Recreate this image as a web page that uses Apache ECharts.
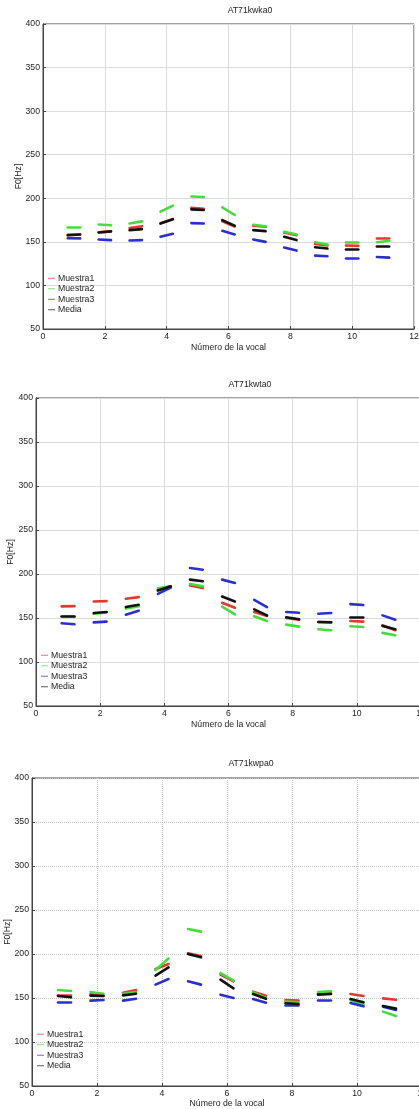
<!DOCTYPE html>
<html>
<head>
<meta charset="utf-8">
<script src="https://cdn.jsdelivr.net/npm/echarts@6/dist/echarts.min.js"></script>
<style>
html,body{margin:0;padding:0;background:#fff;}
#c{width:419px;height:1109px;}
</style>
</head>
<body>
<div id="c"></div>
<script>
// ---- data: each entry is [value at start of vowel, value at end of vowel] (Hz)
const vowels = [1,2,3,4,5,6,7,8,9,10,11];
const seriesNames = ['Muestra1','Muestra2','Muestra3','Media'];
const titles = ['AT71kwka0','AT71kwta0','AT71kwpa0'];
const xTicks = [0,2,4,6,8,10,12];
const yTicks = [50,100,150,200,250,300,350,400];

const ka_m1 = [[158,158.5],[161,162],[166,168],[171.5,176],[189,188],[173.5,167.7],[168.5,167.3],[160.8,157.7],[147.5,146],[145.8,145.4],[154.2,154.2]];
const ka_m2 = [[167.3,167],[170,169],[171,173.5],[184.6,191.5],[202,201.5],[189.6,180.8],[169.6,168],[161.5,158.5],[149.6,147],[149.2,149.2],[149.6,151.2]];
const ka_m3 = [[154.2,154],[152.7,152],[151.5,152],[155.8,159.2],[171.5,171],[162.7,158.5],[152.7,150],[143.5,140],[134.2,133.5],[131.2,131.2],[132.7,131.9]];
const ka_media = [[157.6,158.4],[160.8,162],[163.5,164.6],[171,176],[187.3,186.5],[175,168.5],[163.5,162.3],[155.8,152],[143.8,142.3],[141.5,141.2],[145,145.4]];

const ta_m1 = [[163.2,163.5],[168.8,169.2],[171.8,173.7],[182,186],[187.1,184.1],[167.3,161.7],[156.8,152.3],[150,148],[145.5,145],[146.6,145.9],[141.7,136.1]];
const ta_m2 = [[151.9,151.5],[154.9,156.4],[160.9,163.5],[183.8,186],[188.6,186],[162.8,154.1],[151.9,146.6],[142.5,140.2],[137.2,136.1],[140.6,139.8],[133.1,130.5]];
const ta_m3 = [[144,142.9],[145,145.9],[153.8,158.3],[177.4,184.6],[206.8,204.9],[193.6,189.8],[170.7,162.4],[156.8,156],[154.9,155.6],[165.8,164.7],[153,148.1]];
const ta_media = [[152.3,152.3],[155.6,156.8],[162.4,165],[181.2,186],[193.6,191.7],[174.4,168.8],[159.8,153],[150.8,148.5],[145.5,145.1],[150.8,150.8],[141,137.2]];

const pa_m1 = [[153.4,153.4],[154.2,153.4],[156,159],[183,188.6],[200.8,197.7],[176.5,169],[157.2,152.7],[147.7,147],[155,155.5],[154.5,152.3],[149.6,148.1]];
const pa_m2 = [[159.1,158],[156.8,154.9],[154.9,156.8],[181.8,195],[228.4,225.4],[178.4,169.7],[156.4,150],[146,145],[156.8,157.6],[147.7,142.4],[134.5,129.5]];
const pa_m3 = [[144.7,144.7],[147,147.7],[147,149.2],[165.2,171.6],[169,165.2],[153.8,150],[148.9,144.7],[141.7,141.3],[147.7,147.7],[144.3,140.5],[140.2,136.4]];
const pa_media = [[152.3,150.8],[152.7,152.3],[153,154.9],[175.4,184.8],[200,196.2],[170.8,161],[154.5,149.2],[144,143.2],[153.8,154.5],[148.9,145.1],[140.9,137.9]];

const charts = [
  [ka_m1, ka_m2, ka_m3, ka_media],
  [ta_m1, ta_m2, ta_m3, ta_media],
  [pa_m1, pa_m2, pa_m3, pa_media]
];

// ---- styling / layout
const FONT = 'Liberation Sans, Arial, sans-serif';
const colors = ['#e23a2c', '#44dd3c', '#2b2fcf', '#111111'];
const half = 0.2;
const grids = [
  {left: 43, top: 24, width: 371, height: 305},
  {left: 36, top: 398, width: 385, height: 308},
  {left: 32, top: 778, width: 390, height: 308}
];
const titlePos = [{x: 250, y: 6.5}, {x: 250, y: 380.5}, {x: 251, y: 759.5}];
const legendPos = [{left: 48, top: 273}, {left: 41, top: 650}, {left: 37, top: 1029}];
const gridLineStyles = [
  {color: '#dcdcdc', type: 'solid', width: 1},
  {color: '#dcdcdc', type: 'solid', width: 1},
  {color: '#c4c4c4', type: 'dotted', width: 1}
];
const xNameGap = [14, 14, 13];
const yNameGap = [20, 21, 20];

const option = {
  animation: false,
  backgroundColor: '#fff',
  textStyle: {fontFamily: FONT},
  title: [], grid: [], xAxis: [], yAxis: [], legend: [], series: []
};

charts.forEach((sets, ci) => {
  const g = grids[ci];
  option.grid.push(Object.assign({show: true, borderColor: '#444', borderWidth: 1, backgroundColor: 'transparent',
    containLabel: false, outerBoundsMode: 'none'}, g));
  option.title.push({
    text: titles[ci], left: titlePos[ci].x, top: titlePos[ci].y, textAlign: 'center', padding: 0,
    textStyle: {fontFamily: FONT, fontSize: 8.7, fontWeight: 'normal', color: '#222'}
  });
  option.xAxis.push({
    type: 'value', gridIndex: ci, min: xTicks[0], max: xTicks[xTicks.length - 1], interval: 2,
    name: 'Número de la vocal', nameLocation: 'middle', nameGap: xNameGap[ci], nameMoveOverlap: false,
    nameTextStyle: {fontFamily: FONT, fontSize: 8.7, color: '#222'},
    axisLine: {show: true, lineStyle: {color: '#444', width: 1}},
    axisTick: {show: true, inside: true, length: 3, lineStyle: {color: '#444'}},
    axisLabel: {fontFamily: FONT, fontSize: 8.7, color: '#222', margin: 3, hideOverlap: false},
    splitLine: {show: true, lineStyle: gridLineStyles[ci]}
  });
  option.yAxis.push({
    type: 'value', gridIndex: ci, min: yTicks[0], max: yTicks[yTicks.length - 1], interval: 50,
    name: 'F0[Hz]', nameLocation: 'middle', nameGap: yNameGap[ci], nameMoveOverlap: false,
    nameTextStyle: {fontFamily: FONT, fontSize: 8.7, color: '#222'},
    axisLine: {show: true, lineStyle: {color: '#444', width: 1}},
    axisTick: {show: true, inside: true, length: 3, lineStyle: {color: '#444'}},
    axisLabel: {fontFamily: FONT, fontSize: 8.7, color: '#222', margin: 3},
    splitLine: {show: true, lineStyle: gridLineStyles[ci]}
  });
  option.legend.push({
    orient: 'vertical', left: legendPos[ci].left, top: legendPos[ci].top,
    itemWidth: 7, itemHeight: 1, itemGap: 0, padding: 0, selectedMode: false,
    textStyle: {fontFamily: FONT, fontSize: 8.7, color: '#222', lineHeight: 10.5, padding: [0, 0, 0, -2]},
    data: seriesNames.map((n, si) => ({name: n, icon: 'rect',
      itemStyle: {color: colors[si], opacity: 0.7, borderWidth: 0},
      lineStyle: {width: 1}}))
  });
  sets.forEach((vals, si) => {
    option.series.push({
      type: 'lines', name: seriesNames[si], coordinateSystem: 'cartesian2d',
      xAxisIndex: ci, yAxisIndex: ci, polyline: false, silent: true,
      itemStyle: {color: colors[si]},
      lineStyle: {color: colors[si], width: 2.6, opacity: 1, cap: 'round'},
      data: vowels.map((v, i) => ({coords: [[v - half, vals[i][0]], [v + half, vals[i][1]]]}))
    });
  });
});

const chart = echarts.init(document.getElementById('c'), null, {renderer: 'canvas'});
chart.setOption(option);
</script>
</body>
</html>
